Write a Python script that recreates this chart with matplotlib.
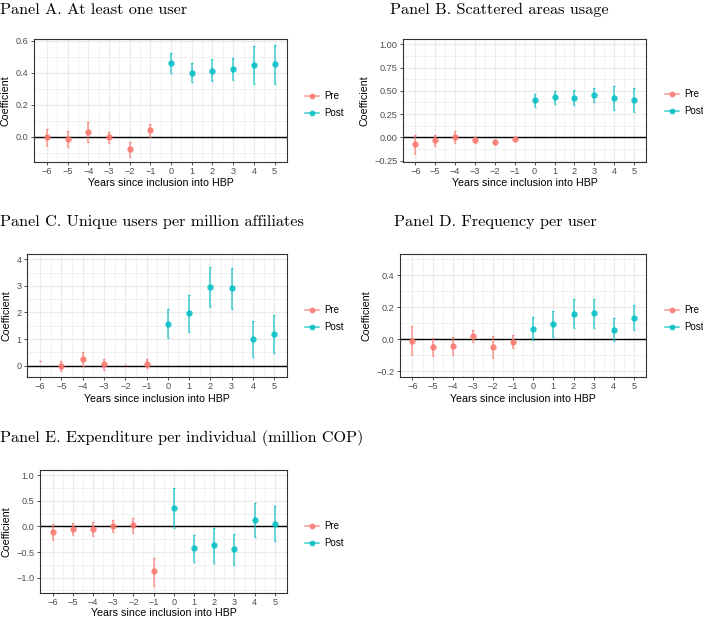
import numpy as np
import matplotlib
matplotlib.use("Agg")
import matplotlib.pyplot as plt
from matplotlib.lines import Line2D

years = np.arange(-6, 6)
pre_col = "#F8766D"
post_col = "#00BFC4"

# coefficients and confidence bounds
a_coef = [0.0, -0.012, 0.029, 0.0, -0.077, 0.046, 0.463, 0.40, 0.413, 0.426, 0.449, 0.455]
a_lo = [-0.054, -0.064, -0.033, -0.037, -0.125, 0.002, 0.40, 0.34, 0.347, 0.355, 0.332, 0.332]
a_hi = [0.05, 0.04, 0.091, 0.033, -0.033, 0.083, 0.521, 0.463, 0.484, 0.494, 0.565, 0.575]

b_coef = [-0.075, -0.032, 0.007, -0.03, -0.047, -0.02, 0.398, 0.43, 0.427, 0.455, 0.427, 0.398]
b_lo = [-0.18, -0.09, -0.06, -0.065, -0.068, -0.043, 0.326, 0.358, 0.344, 0.376, 0.297, 0.269]
b_hi = [0.03, 0.02, 0.07, 0.007, -0.025, 0.004, 0.47, 0.50, 0.509, 0.534, 0.552, 0.527]

c_coef = [np.nan, -0.03, 0.24, 0.05, np.nan, 0.075, 1.58, 1.97, 2.96, 2.91, 1.0, 1.19]
c_lo = [0.19, -0.19, 0.0, -0.16, 0.025, -0.1, 1.04, 1.25, 2.19, 2.14, 0.33, 0.48]
c_hi = [0.19, 0.16, 0.5, 0.24, 0.025, 0.25, 2.13, 2.67, 3.72, 3.67, 1.68, 1.91]

d_coef = [-0.01, -0.048, -0.04, 0.019, -0.05, -0.015, 0.067, 0.096, 0.16, 0.162, 0.06, 0.135]
d_lo = [-0.1, -0.104, -0.098, -0.019, -0.119, -0.054, -0.002, 0.013, 0.071, 0.071, -0.012, 0.056]
d_hi = [0.083, 0.008, 0.017, 0.056, 0.019, 0.027, 0.137, 0.179, 0.252, 0.254, 0.133, 0.215]

e_coef = [-0.11, -0.046, -0.05, 0.007, 0.02, -0.88, 0.36, -0.42, -0.37, -0.44, 0.12, 0.05]
e_lo = [-0.27, -0.16, -0.19, -0.11, -0.13, -1.16, -0.03, -0.69, -0.71, -0.76, -0.21, -0.29]
e_hi = [0.05, 0.07, 0.08, 0.12, 0.17, -0.61, 0.745, -0.16, -0.03, -0.14, 0.45, 0.4]

panels = [
    # title, coef, lo, hi, axes px box, title px pos, ylim, yticks, fmt, legend px
    ("Panel A. At least one user", a_coef, a_lo, a_hi, (34, 39, 287, 162), (0, 3),
     (-0.156, 0.61), [0.0, 0.2, 0.4, 0.6], "{:.1f}", (305, 96)),
    ("Panel B. Scattered areas usage", b_coef, b_lo, b_hi, (403, 39, 646, 162), (390, 3),
     (-0.265, 1.057), [-0.25, 0.0, 0.25, 0.5, 0.75, 1.0], "{:.2f}", (665, 94)),
    ("Panel C. Unique users per million affiliates", c_coef, c_lo, c_hi, (27, 254, 287, 377), (0, 215),
     (-0.43, 4.2), [0, 1, 2, 3, 4], "{:.0f}", (305, 310)),
    ("Panel D. Frequency per user", d_coef, d_lo, d_hi, (400, 254, 646, 377), (394, 215),
     (-0.235, 0.533), [-0.2, 0.0, 0.2, 0.4], "{:.1f}", (665, 310)),
    ("Panel E. Expenditure per individual (million COP)", e_coef, e_lo, e_hi, (40, 470, 287, 593), (0, 430),
     (-1.30, 1.10), [-1.0, -0.5, 0.0, 0.5, 1.0], "{:.1f}", (305, 526)),
]

W, H = 703, 617
fig = plt.figure(figsize=(W / 100, H / 100), dpi=100)
sans = "Liberation Sans"

for title, coef, lo, hi, box, tpos, ylim, yt, fmt, leg in panels:
    x0, y0, x1, y1 = box
    ax = fig.add_axes([x0 / W, 1 - y1 / H, (x1 - x0) / W, (y1 - y0) / H])
    coef = np.array(coef, dtype=float)
    lo = np.array(lo)
    hi = np.array(hi)
    mid = (lo + hi) / 2
    for mask, col in [(years < 0, pre_col), (years >= 0, post_col)]:
        ax.errorbar(years[mask], mid[mask], yerr=(hi[mask] - lo[mask]) / 2, fmt="none",
                    ecolor=col, elinewidth=1.1, capsize=1.0, capthick=0.9, alpha=0.75, zorder=3)
        ax.plot(years[mask], coef[mask], "o", color=col, ms=4.6, alpha=0.85, mec="none", zorder=4)
    ax.axhline(0, color="black", lw=1.0, zorder=2)

    ax.set_xlim(-6.62, 5.6)
    ax.set_ylim(*ylim)
    ax.set_xticks(years)
    ax.set_xticklabels([str(v).replace("-", "\u2212") for v in years])
    ax.set_xticks(years[:-1] + 0.5, minor=True)
    ax.set_yticks(yt)
    ax.set_yticklabels([fmt.format(v).replace("-", "\u2212") for v in yt])
    step = yt[1] - yt[0]
    minors = np.arange(yt[0] - step / 2, yt[-1] + step, step)
    ax.set_yticks([m for m in minors if ylim[0] < m < ylim[1]], minor=True)
    ax.grid(which="major", color="#EBEBEB", lw=0.9, zorder=0)
    ax.grid(which="minor", color="#EBEBEB", lw=0.5, zorder=0)
    ax.set_axisbelow(True)
    ax.tick_params(which="major", length=2.5, width=0.6, color="#333333", labelsize=6.6,
                   labelcolor="#4D4D4D", pad=1.4)
    for lab in ax.get_xticklabels() + ax.get_yticklabels():
        lab.set_family(sans)
    ax.tick_params(which="minor", length=0)
    for s in ax.spines.values():
        s.set_color("#333333")
        s.set_linewidth(0.8)
    ax.set_xlabel("Years since inclusion into HBP", fontsize=7.7, family=sans,
                  labelpad=0.2 if y1 > 500 else 1.5)
    ax.set_ylabel("Coefficient", fontsize=7.7, family=sans, labelpad=3.5)

    fig.text(tpos[0] / W, 1 - tpos[1] / H, title, family="cmr10", fontsize=11.7,
             ha="left", va="top")

    # legend drawn by hand so it sits where ggplot put it
    lx, ly = leg
    for k, (lab, col) in enumerate([("Pre", pre_col), ("Post", post_col)]):
        yy = 1 - (ly + 17 * k) / H
        fig.add_artist(Line2D([lx / W, (lx + 14) / W], [yy, yy], color=col, lw=1.1, alpha=0.75))
        fig.add_artist(Line2D([(lx + 7) / W], [yy], marker="o", color=col, ms=4.2, alpha=0.85, mec="none"))
        fig.text((lx + 19) / W, yy, lab, fontsize=7, family=sans, va="center")

fig.savefig("out.png", dpi=100)
